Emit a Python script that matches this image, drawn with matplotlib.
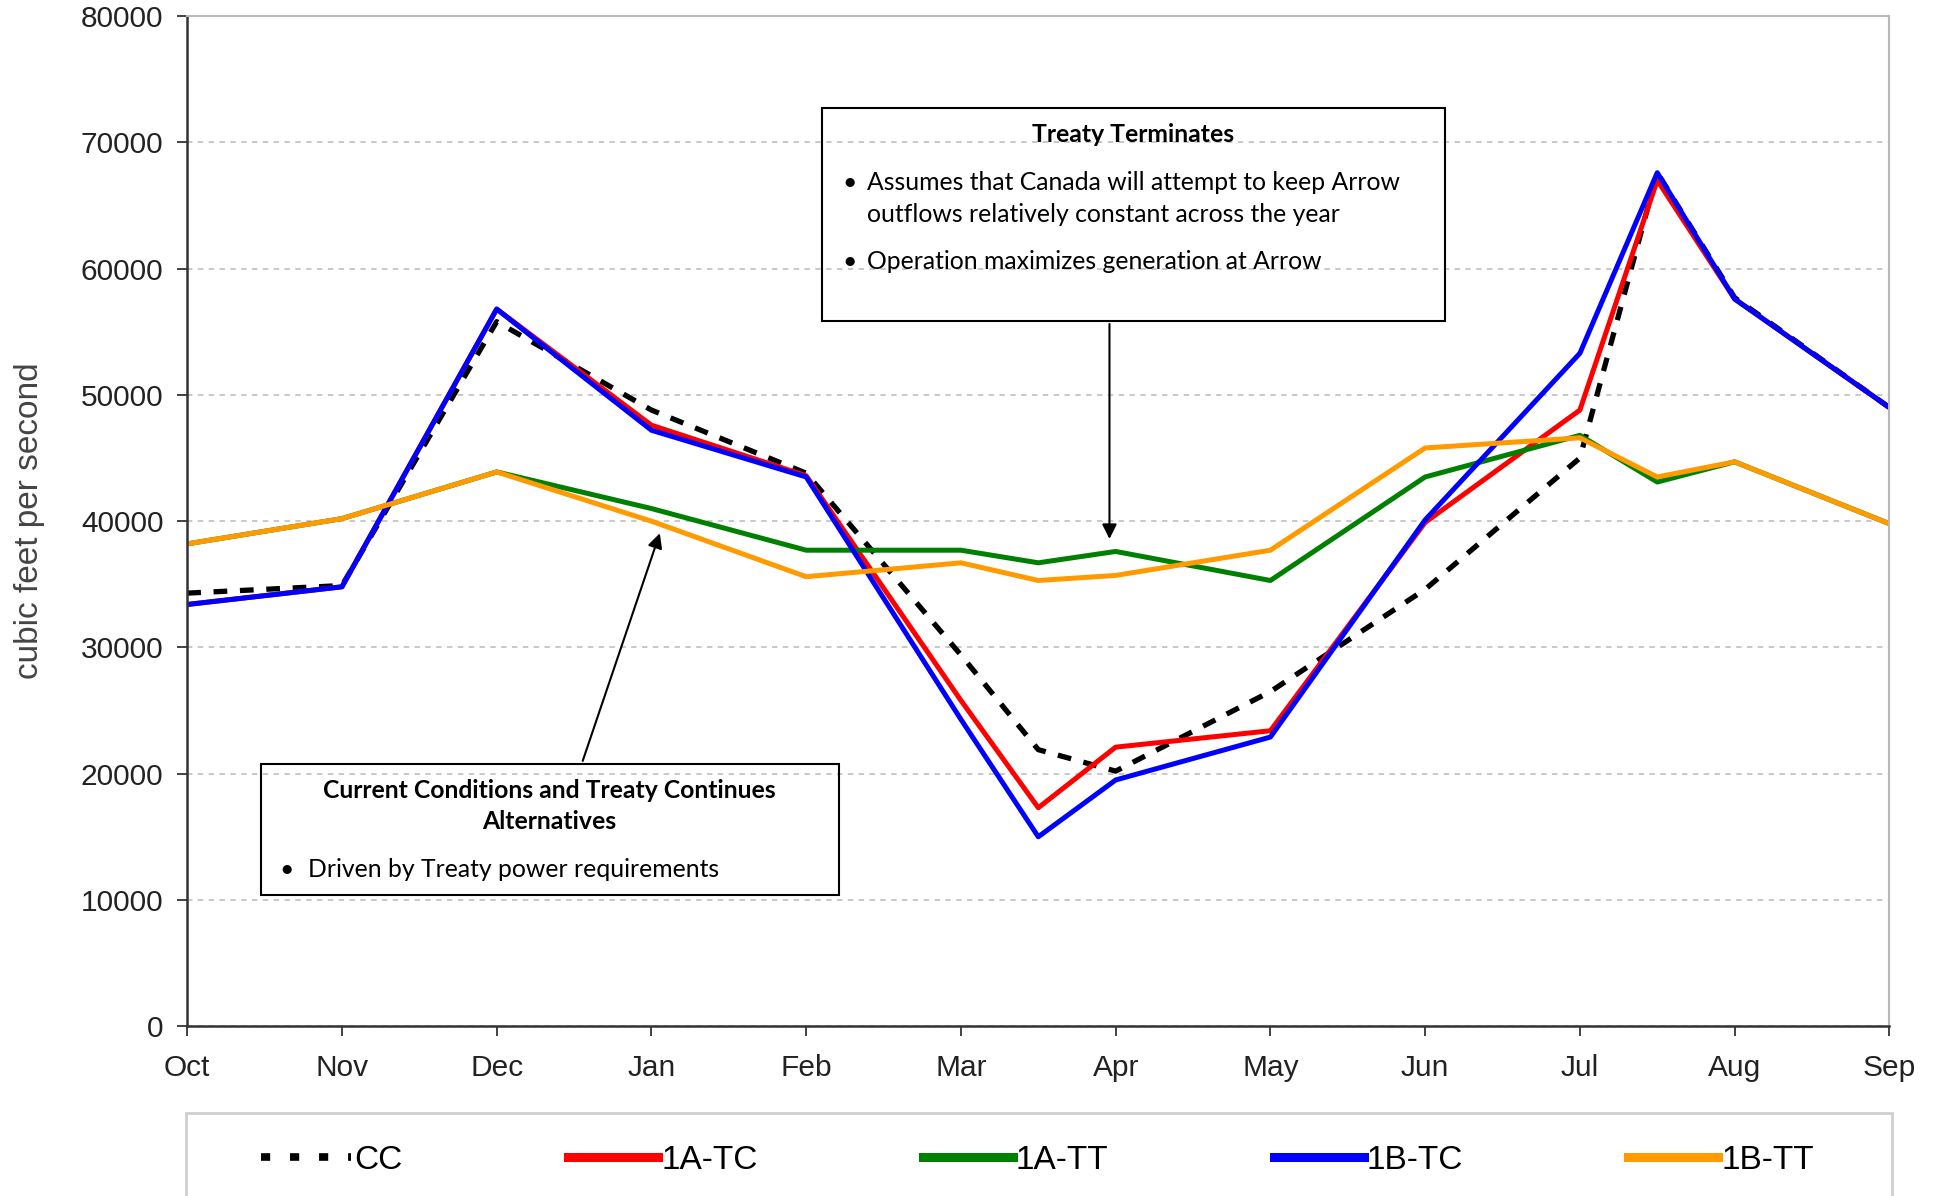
import numpy as np
import matplotlib.pyplot as plt
from matplotlib.patches import Rectangle
from matplotlib.lines import Line2D

# Months on the axis; Apr and Aug are split into two half-month periods
months = ['Oct', 'Nov', 'Dec', 'Jan', 'Feb', 'Mar', 'Apr', 'May', 'Jun', 'Jul', 'Aug', 'Sep']
periods = [0, 1, 2, 3, 4, 5, 5.5, 6, 7, 8, 9, 9.5, 10, 11]

# Arrow outflows (cfs) per period
cc    = [34300, 34900, 55800, 48800, 43800, 29400, 21900, 20200, 26500, 34600, 45000, 67600, 57700, 49000]
a1_tc = [33400, 34800, 56800, 47600, 43600, 25800, 17300, 22100, 23400, 39900, 48800, 67000, 57600, 49000]
a1_tt = [38200, 40200, 43900, 41000, 37700, 37700, 36700, 37600, 35300, 43500, 46800, 43100, 44700, 39800]
b1_tc = [33400, 34800, 56800, 47200, 43500, 24300, 15000, 19500, 22900, 40100, 53300, 67600, 57600, 49000]
b1_tt = [38200, 40200, 43900, 40000, 35600, 36700, 35300, 35700, 37700, 45800, 46600, 43500, 44700, 39800]

names = ['CC', '1A-TC', '1A-TT', '1B-TC', '1B-TT']
colors = ['black', '#ff0000', '#008000', '#0000ff', '#ff9a00']

fig = plt.figure(figsize=(19.44, 11.96), dpi=100)
ax = fig.add_axes([0.0963, 0.142, 0.8756, 0.8445])

ax.plot(periods, cc, color=colors[0], lw=3.8, dashes=(2.6, 2.4))
ax.plot(periods, a1_tc, color=colors[1], lw=3.6)
ax.plot(periods, a1_tt, color=colors[2], lw=3.6)
ax.plot(periods, b1_tc, color=colors[3], lw=3.6)
ax.plot(periods, b1_tt, color=colors[4], lw=3.6)

ax.set_xlim(0, 11)
ax.set_ylim(0, 80000)
ax.set_xticks(range(len(months)))
ax.set_xticklabels(months)
ax.set_yticks(np.arange(0, 80001, 10000))
ax.tick_params(labelsize=21.5, colors='#222222', length=7, width=1.2, pad=10)
for lab in ax.get_xticklabels() + ax.get_yticklabels():
    lab.set_family('Liberation Sans')
ax.tick_params(axis='x', pad=13)
ax.yaxis.grid(True, ls=(0, (3, 3)), color='#c4c4c4', lw=1.3)
ax.set_axisbelow(True)
for s in ['left', 'bottom']:
    ax.spines[s].set_color('#333333')
    ax.spines[s].set_linewidth(1.8)
for s in ['top', 'right']:
    ax.spines[s].set_color('#b8b8b8')
    ax.spines[s].set_linewidth(1.5)

fig.text(0.015, 0.565, 'cubic feet per second', rotation=90, ha='center', va='center',
         fontsize=24, color='#444444', family=['Liberation Sans Narrow', 'Liberation Sans'])

# Annotation boxes
box_font = ['Lato', 'DejaVu Sans']
fs = 17.8
ax.add_patch(Rectangle((4.10, 55840), 4.03, 16880, fill=False, ec='black', lw=1.5, zorder=5))
ax.text(6.11, 70660, 'Treaty Terminates', ha='center', va='center', fontsize=fs,
        fontweight='bold', family=box_font)
ax.text(4.28, 66830, '•', ha='center', va='center', fontsize=fs, family=box_font)
ax.text(4.39, 66830, 'Assumes that Canada will attempt to keep Arrow', va='center',
        fontsize=fs, family=box_font)
ax.text(4.39, 64280, 'outflows relatively constant across the year', va='center',
        fontsize=fs, family=box_font)
ax.text(4.28, 60550, '•', ha='center', va='center', fontsize=fs, family=box_font)
ax.text(4.39, 60550, 'Operation maximizes generation at Arrow', va='center',
        fontsize=fs, family=box_font)
ax.annotate('', xy=(5.96, 38370), xytext=(5.96, 55840),
            arrowprops=dict(arrowstyle='-|>', color='black', lw=1.5, mutation_scale=22))

ax.add_patch(Rectangle((0.48, 10400), 3.73, 10400, fill=False, ec='black', lw=1.5, zorder=5))
ax.text(2.34, 18650, 'Current Conditions and Treaty Continues', ha='center', va='center',
        fontsize=fs, fontweight='bold', family=box_font)
ax.text(2.34, 16190, 'Alternatives', ha='center', va='center', fontsize=fs,
        fontweight='bold', family=box_font)
ax.text(0.64, 12370, '•', ha='center', va='center', fontsize=fs, family=box_font)
ax.text(0.78, 12370, 'Driven by Treaty power requirements', va='center',
        fontsize=fs, family=box_font)
ax.annotate('', xy=(3.06, 39250), xytext=(2.55, 20800),
            arrowprops=dict(arrowstyle='-|>', color='black', lw=1.5, mutation_scale=22))

# Legend panel at the bottom (cut off by the figure edge)
fig.patches.append(Rectangle((150 / 1568, -0.05), 1376 / 1568, 0.05 + 1 - 898 / 965,
                             transform=fig.transFigure, fill=False, ec='#cfcfcf', lw=2))
handles = [Line2D([], [], color=colors[0], lw=5.5, dashes=(1.2, 2.6))]
handles += [Line2D([], [], color=c, lw=6.5) for c in colors[1:]]
fig.legend(handles, names, loc='center left', bbox_to_anchor=(0.119, 0.030), ncol=5,
           frameon=False, prop={'family': ['Liberation Sans Narrow', 'Liberation Sans'], 'size': 24},
           handlelength=2.7, handletextpad=0.1, columnspacing=4.95)

fig.savefig('out.png', dpi=100)
